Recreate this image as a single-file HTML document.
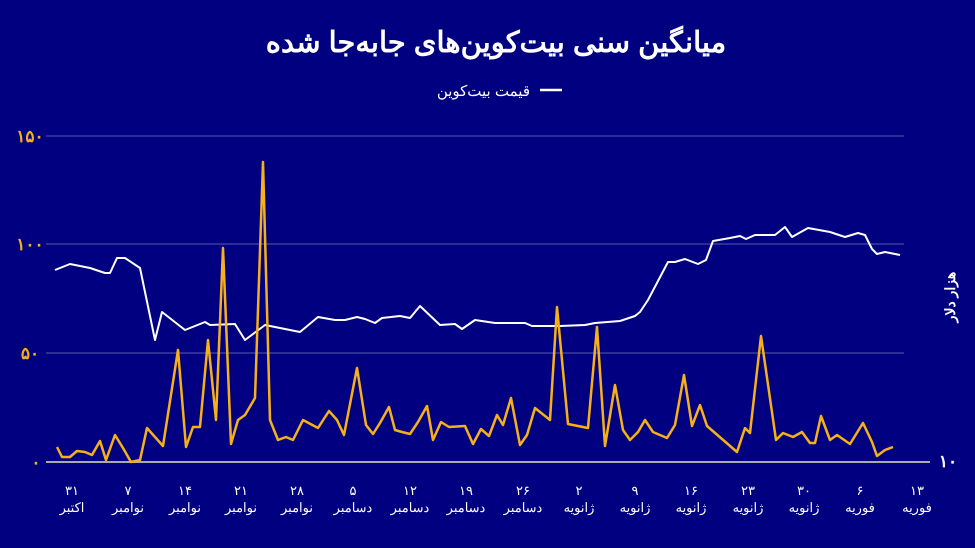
<!DOCTYPE html>
<html><head><meta charset="utf-8"><style>
html,body{margin:0;padding:0;background:#000080;}
svg{display:block}
text{font-family:"Liberation Sans","Noto Sans CJK SC",sans-serif;}
</style></head><body>
<svg width="975" height="548" viewBox="0 0 975 548" xmlns="http://www.w3.org/2000/svg">
<rect width="975" height="548" fill="#000080"/>
<text x="496" y="52" text-anchor="middle" fill="#fff" font-size="29" font-weight="bold">میانگین سنی بیت‌کوین‌های جابه‌جا شده</text>
<line x1="540" y1="90" x2="562" y2="90" stroke="#fff" stroke-width="2.5"/>
<text x="530" y="96" text-anchor="end" fill="#fff" font-size="15">قیمت بیت‌کوین</text>
<g stroke="#5a5ab0" stroke-width="1">
<line x1="46" y1="136" x2="904" y2="136"/>
<line x1="46" y1="244" x2="904" y2="244"/>
<line x1="46" y1="353" x2="904" y2="353"/>
</g>
<line x1="46" y1="462" x2="930" y2="462" stroke="#aaaaaa" stroke-width="2"/>
<g fill="#f5b01a" font-size="17" font-weight="bold" text-anchor="middle">
<text x="30" y="142">۱۵۰</text>
<text x="30" y="250">۱۰۰</text>
<text x="30" y="359">۵۰</text>
<text x="36" y="468">۰</text>
</g>
<text x="948" y="467" fill="#fff" font-size="17" font-weight="bold" text-anchor="middle">۱۰</text>
<text transform="translate(955,297) rotate(-90)" fill="#fff" font-size="14" font-weight="bold" text-anchor="middle">هزار دلار</text>
<g fill="#fff" font-size="13" text-anchor="middle">
<text x="72" y="495">۳۱</text><text x="72" y="512">اکتبر</text>
<text x="128" y="495">۷</text><text x="128" y="512">نوامبر</text>
<text x="185" y="495">۱۴</text><text x="185" y="512">نوامبر</text>
<text x="241" y="495">۲۱</text><text x="241" y="512">نوامبر</text>
<text x="297" y="495">۲۸</text><text x="297" y="512">نوامبر</text>
<text x="353" y="495">۵</text><text x="353" y="512">دسامبر</text>
<text x="410" y="495">۱۲</text><text x="410" y="512">دسامبر</text>
<text x="466" y="495">۱۹</text><text x="466" y="512">دسامبر</text>
<text x="523" y="495">۲۶</text><text x="523" y="512">دسامبر</text>
<text x="579" y="495">۲</text><text x="579" y="512">ژانویه</text>
<text x="635" y="495">۹</text><text x="635" y="512">ژانویه</text>
<text x="691" y="495">۱۶</text><text x="691" y="512">ژانویه</text>
<text x="748" y="495">۲۳</text><text x="748" y="512">ژانویه</text>
<text x="804" y="495">۳۰</text><text x="804" y="512">ژانویه</text>
<text x="860" y="495">۶</text><text x="860" y="512">فوریه</text>
<text x="917" y="495">۱۳</text><text x="917" y="512">فوریه</text>
</g>
<polyline fill="none" stroke="#fff" stroke-width="2" stroke-linejoin="round" points="55,270 70,264 90,268 105,273 110,273 117,258 125,258 140,268 155,340 162,312 185,330 205,322 210,325 235,324 245,340 265,325 300,332 318,317 335,320 345,320 357,317 365,319 375,323 382,318 400,316 410,318 420,306 440,325 455,324 462,329 475,320 495,323 525,323 532,326 560,326 585,325 595,323 620,321 635,316 640,312 648,300 668,262 675,262 685,259 698,264 706,260 713,241 730,238 740,236 746,239 755,235 775,235 785,227 792,237 808,228 830,232 845,237 858,233 865,235 872,249 877,254 885,252 900,255"/>
<polyline fill="none" stroke="#f5b01a" stroke-width="2.5" stroke-linejoin="round" points="57,447 62,457 70,457 77,451 85,452 92,455 100,441 106,460 115,435 123,448 131,462 140,460 147,428 163,446 178,350 186,447 193,427 200,427 208,340 216,420 223,248 231,444 238,420 245,415 255,398 263,162 270,420 278,440 286,437 293,440 303,420 318,428 329,411 337,420 344,435 357,368 366,425 373,434 380,423 389,407 395,430 402,432 410,434 418,422 427,406 433,440 441,422 449,427 465,426 473,444 481,429 489,436 497,415 503,425 511,398 520,445 527,435 535,408 550,420 557,307 568,424 588,428 597,327 605,446 615,385 623,430 630,440 638,432 645,420 653,432 667,438 675,425 684,375 692,426 700,405 707,426 737,452 745,428 750,433 761,336 776,440 783,433 793,437 802,432 810,443 815,443 821,416 830,440 837,435 850,444 863,423 872,442 877,456 885,450 893,447"/>
</svg>
</body></html>
